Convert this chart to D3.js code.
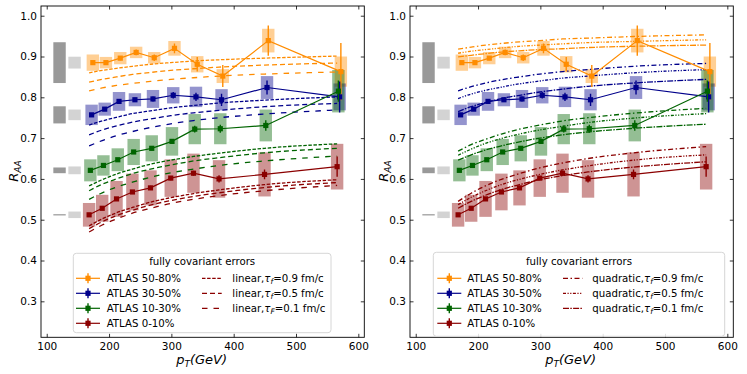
<!DOCTYPE html>
<html><head><meta charset="utf-8">
<script src="https://cdn.jsdelivr.net/npm/d3@7"></script>
<style>body{margin:0;background:#fff} svg{font-family:"DejaVu Sans",sans-serif}</style>
</head><body><svg id="c" width="747" height="374"></svg>
<script>
// ---------------- DATA ----------------
const xTicks = [100, 200, 300, 400, 500, 600];
const yTicks = [0.3, 0.4, 0.5, 0.6, 0.7, 0.8, 0.9, 1.0];
const seriesNames = ["ATLAS 50-80%", "ATLAS 30-50%", "ATLAS 10-30%", "ATLAS 0-10%"];
const seriesColors = ["#ff8c00", "#00008b", "#006400", "#8b0000"];

const pT_50_80 = [174, 195, 218, 243.5, 272.5, 305, 341.5, 382.5, 455.5, 572];
const pT_30_50 = [172, 193, 216, 241.5, 270.5, 303, 339.5, 380.5, 453.5, 570];
const pT_10_30 = [170, 191, 214, 239.5, 268.5, 301, 337.5, 378.5, 451.5, 568];
const pT_0_10  = [168, 189, 212, 237.5, 266.5, 299, 335.5, 376.5, 449.5, 566];

const raa_50_80 = [0.885, 0.885, 0.896, 0.910, 0.897, 0.920, 0.881, 0.852, 0.939, 0.863];
const raa_30_50 = [0.757, 0.771, 0.790, 0.794, 0.796, 0.805, 0.801, 0.794, 0.824, 0.801];
const raa_10_30 = [0.621, 0.633, 0.647, 0.666, 0.675, 0.692, 0.722, 0.723, 0.731, 0.815];
const raa_0_10  = [0.512, 0.528, 0.551, 0.568, 0.578, 0.602, 0.614, 0.600, 0.611, 0.630];

const stat_50_80 = [0.004, 0.004, 0.005, 0.007, 0.008, 0.012, 0.018, 0.027, 0.037, 0.070];
const stat_30_50 = [0.004, 0.004, 0.005, 0.005, 0.006, 0.008, 0.010, 0.015, 0.017, 0.038];
const stat_10_30 = [0.004, 0.004, 0.004, 0.005, 0.005, 0.006, 0.008, 0.010, 0.013, 0.026];
const stat_0_10  = [0.004, 0.004, 0.004, 0.005, 0.005, 0.005, 0.006, 0.009, 0.012, 0.025];

const sys_50_80 = [0.020, 0.014, 0.015, 0.014, 0.014, 0.018, 0.020, 0.017, 0.029, 0.037];
const sys_30_50 = [0.025, 0.016, 0.023, 0.016, 0.022, 0.020, 0.025, 0.026, 0.028, 0.033];
const sys_10_30 = [0.027, 0.025, 0.028, 0.032, 0.032, 0.035, 0.037, 0.038, 0.039, 0.052];
const sys_0_10  = [0.029, 0.033, 0.044, 0.045, 0.043, 0.046, 0.048, 0.046, 0.054, 0.056];

// normalisation uncertainty boxes (dark / light), half heights
const normDark  = [0.050, 0.021, 0.007, 0.0015];
const normLight = [0.0145, 0.013, 0.0095, 0.008];
const normDarkX  = [110.6, 130.5];
const normLightX = [134.7, 154.6];

// theory curves at the pT bin centres, order tau_f = 0.9, 0.5, 0.1
const pT_theory = [168, 189, 212, 237.5, 266.5, 299, 335.5, 376.5, 449.5, 566];
const linear_50_80 = [
  [0.860, 0.866, 0.871, 0.876, 0.881, 0.885, 0.889, 0.892, 0.896, 0.901],
  [0.837, 0.844, 0.850, 0.856, 0.861, 0.866, 0.870, 0.874, 0.879, 0.884],
  [0.816, 0.823, 0.829, 0.834, 0.839, 0.844, 0.848, 0.852, 0.857, 0.862]];
const linear_30_50 = [
  [0.732, 0.742, 0.751, 0.760, 0.767, 0.774, 0.780, 0.786, 0.793, 0.801],
  [0.708, 0.720, 0.730, 0.739, 0.747, 0.755, 0.762, 0.768, 0.777, 0.785],
  [0.681, 0.694, 0.706, 0.716, 0.726, 0.735, 0.743, 0.750, 0.759, 0.769]];
const linear_10_30 = [
  [0.583, 0.598, 0.612, 0.624, 0.636, 0.646, 0.655, 0.663, 0.675, 0.686],
  [0.571, 0.587, 0.600, 0.613, 0.624, 0.634, 0.644, 0.652, 0.664, 0.675],
  [0.550, 0.566, 0.580, 0.592, 0.604, 0.615, 0.624, 0.633, 0.644, 0.656]];
const linear_0_10 = [
  [0.485, 0.502, 0.517, 0.530, 0.543, 0.554, 0.564, 0.573, 0.586, 0.598],
  [0.478, 0.495, 0.510, 0.523, 0.536, 0.547, 0.557, 0.566, 0.579, 0.591],
  [0.470, 0.487, 0.502, 0.516, 0.528, 0.540, 0.550, 0.559, 0.571, 0.584]];
const quad_50_80 = [
  [0.918, 0.923, 0.928, 0.932, 0.936, 0.939, 0.943, 0.945, 0.949, 0.953],
  [0.908, 0.913, 0.917, 0.921, 0.925, 0.928, 0.931, 0.934, 0.937, 0.941],
  [0.899, 0.903, 0.907, 0.911, 0.914, 0.917, 0.919, 0.922, 0.925, 0.928]];
const quad_30_50 = [
  [0.816, 0.826, 0.835, 0.843, 0.850, 0.857, 0.863, 0.868, 0.876, 0.883],
  [0.797, 0.808, 0.817, 0.825, 0.833, 0.840, 0.847, 0.852, 0.860, 0.868],
  [0.765, 0.777, 0.787, 0.797, 0.805, 0.813, 0.820, 0.827, 0.835, 0.844]];
const quad_10_30 = [
  [0.668, 0.684, 0.697, 0.710, 0.722, 0.732, 0.742, 0.750, 0.761, 0.773],
  [0.658, 0.673, 0.687, 0.699, 0.710, 0.720, 0.729, 0.738, 0.749, 0.760],
  [0.646, 0.659, 0.671, 0.681, 0.691, 0.700, 0.708, 0.715, 0.724, 0.734]];
const quad_0_10 = [
  [0.545, 0.565, 0.583, 0.599, 0.613, 0.627, 0.639, 0.650, 0.664, 0.679],
  [0.537, 0.555, 0.571, 0.586, 0.599, 0.611, 0.622, 0.632, 0.646, 0.659],
  [0.528, 0.545, 0.560, 0.574, 0.586, 0.598, 0.608, 0.617, 0.629, 0.642]];

const tauLabels = ["0.9", "0.5", "0.1"];

// ---------------- DRAWING ----------------
const svg = d3.select("#c");
const series = [
  {name: seriesNames[0], color: seriesColors[0], x: pT_50_80, y: raa_50_80, stat: stat_50_80, sys: sys_50_80},
  {name: seriesNames[1], color: seriesColors[1], x: pT_30_50, y: raa_30_50, stat: stat_30_50, sys: sys_30_50},
  {name: seriesNames[2], color: seriesColors[2], x: pT_10_30, y: raa_10_30, stat: stat_10_30, sys: sys_10_30},
  {name: seriesNames[3], color: seriesColors[3], x: pT_0_10,  y: raa_0_10,  stat: stat_0_10,  sys: sys_0_10}
];

const yS = d3.scaleLinear().domain([0.2118, 1.0238]).range([337.3, 6]);
const plotTop = 6, plotBottom = 337.3;

const panels = [
  {x0: 41, x1: 364.3, model: "linear", theory: [linear_50_80, linear_30_50, linear_10_30, linear_0_10],
   dashes: ["3.5,1.6", "5,3", "5.5,6"], sub: ["f", "f", "F"],
   legend: {x: 73.3, y: 253.3, w: 257.7, h: 79.4, c1: 76, c1t: 106.7, c2: 202, c2w: 19.7, c2t: 232.3},
   ylab: 13},
  {x0: 410, x1: 733.3, model: "quadratic", theory: [quad_50_80, quad_30_50, quad_10_30, quad_0_10],
   dashes: ["5,2.5,1.5,2.5", "3,1.5,1.2,1.5,1.2,1.5", "6,1.3,1.5,1.3"], sub: ["f", "f", "f"],
   legend: {x: 433.3, y: 252.3, w: 291.4, h: 84, c1: 437.3, c1t: 467.3, c2: 563, c2w: 19.3, c2t: 592.3},
   ylab: 383}
];

panels.forEach((P, pi) => {
  const xS = d3.scaleLinear().domain([90.8, 609.6]).range([P.x0, P.x1]);
  const g = svg.append("g");
  const clipId = "clip" + pi;
  svg.append("clipPath").attr("id", clipId).append("rect")
    .attr("x", P.x0).attr("y", plotTop).attr("width", P.x1 - P.x0).attr("height", plotBottom - plotTop);
  const plot = g.append("g").attr("clip-path", `url(#${clipId})`);

  // normalisation boxes
  series.forEach((s, i) => {
    plot.append("rect").attr("x", xS(normDarkX[0])).attr("width", xS(normDarkX[1]) - xS(normDarkX[0]))
      .attr("y", yS(s.y[0] + normDark[i])).attr("height", Math.max(1.2, yS(s.y[0] - normDark[i]) - yS(s.y[0] + normDark[i])))
      .attr("fill", "#999999");
    plot.append("rect").attr("x", xS(normLightX[0])).attr("width", xS(normLightX[1]) - xS(normLightX[0]))
      .attr("y", yS(s.y[0] + normLight[i])).attr("height", yS(s.y[0] - normLight[i]) - yS(s.y[0] + normLight[i]))
      .attr("fill", "#d3d3d3");
  });

  // systematic boxes
  series.forEach(s => {
    s.x.forEach((xv, k) => {
      plot.append("rect").attr("x", xS(xv) - 6.2).attr("width", 12.4)
        .attr("y", yS(s.y[k] + s.sys[k])).attr("height", yS(s.y[k] - s.sys[k]) - yS(s.y[k] + s.sys[k]))
        .attr("fill", s.color).attr("fill-opacity", 0.42);
    });
  });

  // theory curves
  const line = d3.line().x((d, k) => xS(pT_theory[k])).y(d => yS(d)).curve(d3.curveMonotoneX);
  P.theory.forEach((set, i) => {
    set.forEach((vals, t) => {
      plot.append("path").attr("d", line(vals)).attr("fill", "none")
        .attr("stroke", seriesColors[i]).attr("stroke-width", 1.3)
        .attr("stroke-dasharray", P.dashes[t]);
    });
  });

  // data
  series.forEach(s => {
    const dl = d3.line().x((d, k) => xS(s.x[k])).y(d => yS(d));
    plot.append("path").attr("d", dl(s.y)).attr("fill", "none").attr("stroke", s.color).attr("stroke-width", 1.2);
    s.x.forEach((xv, k) => {
      plot.append("line").attr("x1", xS(xv)).attr("x2", xS(xv))
        .attr("y1", yS(s.y[k] + s.stat[k])).attr("y2", yS(s.y[k] - s.stat[k]))
        .attr("stroke", s.color).attr("stroke-width", 1.4);
      plot.append("rect").attr("x", xS(xv) - 2.6).attr("y", yS(s.y[k]) - 2.6)
        .attr("width", 5.2).attr("height", 5.2).attr("fill", s.color);
    });
  });

  // axes
  const ax = g.append("g").attr("transform", `translate(0,${plotBottom})`)
    .call(d3.axisBottom(xS).tickValues(xTicks).tickSize(-3.5).tickPadding(5).tickFormat(d3.format("d")));
  const axT = g.append("g").attr("transform", `translate(0,${plotTop})`)
    .call(d3.axisTop(xS).tickValues(xTicks).tickSize(-3.5).tickFormat(""));
  const ay = g.append("g").attr("transform", `translate(${P.x0},0)`)
    .call(d3.axisLeft(yS).tickValues(yTicks).tickSize(-3.5).tickPadding(4).tickFormat(d3.format(".1f")));
  const ayR = g.append("g").attr("transform", `translate(${P.x1},0)`)
    .call(d3.axisRight(yS).tickValues(yTicks).tickSize(-3.5).tickFormat(""));
  [ax, axT, ay, ayR].forEach(a => {
    a.select(".domain").remove();
    a.selectAll("text").attr("font-size", 10.5).attr("font-family", "DejaVu Sans").attr("fill", "#000");
    a.selectAll("line").attr("stroke", "#000").attr("stroke-width", 0.8);
  });
  g.append("rect").attr("x", P.x0).attr("y", plotTop).attr("width", P.x1 - P.x0).attr("height", plotBottom - plotTop)
    .attr("fill", "none").attr("stroke", "#000").attr("stroke-width", 0.9);

  // axis labels
  const xl = g.append("text").attr("x", (P.x0 + P.x1) / 2 - 1).attr("y", 364).attr("text-anchor", "middle")
    .attr("font-size", 13).attr("font-style", "italic");
  xl.append("tspan").text("p");
  xl.append("tspan").text("T").attr("font-size", 9).attr("dy", 3);
  xl.append("tspan").text("(GeV)").attr("dy", -3);
  const yl = g.append("text").attr("transform", `translate(${P.ylab + 5},171) rotate(-90)`)
    .attr("text-anchor", "middle").attr("font-size", 13).attr("font-style", "italic");
  yl.append("tspan").text("R");
  yl.append("tspan").text("AA").attr("font-size", 9).attr("dy", 3);

  // legend
  const L = P.legend;
  const lg = g.append("g");
  lg.append("rect").attr("x", L.x).attr("y", L.y).attr("width", L.w).attr("height", L.h)
    .attr("rx", 3).attr("fill", "#fff").attr("fill-opacity", 0.85).attr("stroke", "#d6d6d6").attr("stroke-width", 1);
  lg.append("text").attr("x", L.x + L.w / 2).attr("y", 261.7).attr("dy", "0.35em").attr("text-anchor", "middle")
    .attr("font-size", 10.2).text("fully covariant errors");
  const rowY = [278.3, 293.3, 308.3, 323.3];
  series.forEach((s, i) => {
    const yy = rowY[i];
    lg.append("line").attr("x1", L.c1).attr("x2", L.c1 + 24).attr("y1", yy).attr("y2", yy)
      .attr("stroke", s.color).attr("stroke-width", 1.2);
    lg.append("line").attr("x1", L.c1 + 12).attr("x2", L.c1 + 12).attr("y1", yy - 5).attr("y2", yy + 5)
      .attr("stroke", s.color).attr("stroke-width", 1.4);
    lg.append("rect").attr("x", L.c1 + 12 - 2.6).attr("y", yy - 2.6).attr("width", 5.2).attr("height", 5.2).attr("fill", s.color);
    lg.append("text").attr("x", L.c1t).attr("y", yy).attr("dy", "0.35em").attr("font-size", 10.2).text(s.name);
  });
  tauLabels.forEach((tau, t) => {
    const yy = rowY[t];
    lg.append("line").attr("x1", L.c2).attr("x2", L.c2 + L.c2w).attr("y1", yy).attr("y2", yy)
      .attr("stroke", seriesColors[3]).attr("stroke-width", 1.3).attr("stroke-dasharray", P.dashes[t]);
    const tx = lg.append("text").attr("x", L.c2t).attr("y", yy).attr("dy", "0.35em").attr("font-size", 10.2);
    tx.append("tspan").text(P.model + ",");
    tx.append("tspan").text("τ").attr("font-style", "italic");
    tx.append("tspan").text(P.sub[t]).attr("font-style", "italic").attr("font-size", 7.5).attr("dy", 2.5);
    tx.append("tspan").text("=" + tau + " fm/c").attr("dy", -2.5);
  });
});
</script></body></html>
